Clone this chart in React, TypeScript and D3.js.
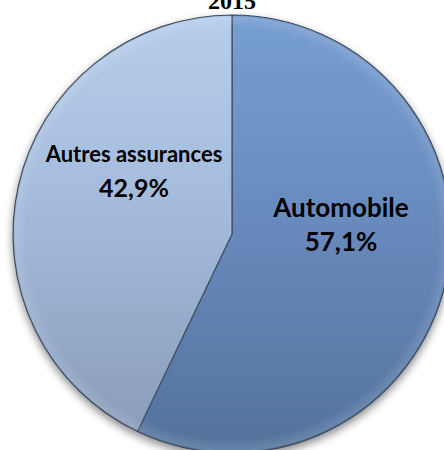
import React from "react";
import * as d3 from "d3";

const categories = ["Automobile", "Autres assurances"];
const values = [57.1, 42.9];
const valueLabels = ["57,1%", "42,9%"];
const title = "2015";

const W = 444;
const H = 450;
const cx = 232;
const cy = 234;
const R = 219;

const gradients = [
  { id: "gAuto", top: "#779ed2", mid: "#6789bb", bottom: "#53739c" },
  { id: "gAutres", top: "#b6cdec", mid: "#a1b8d9", bottom: "#8799b6" },
];

const labelStyle = [
  { nameSize: 26, valueSize: 26, nameDy: 217, valueDy: 251, x: 341 },
  { nameSize: 22, valueSize: 25, nameDy: 162, valueDy: 197, x: 134 },
];

export default function App() {
  const pie = d3
    .pie<number>()
    .sort(null)
    .startAngle(0)
    .endAngle(2 * Math.PI)
    .value((d) => d);
  const arcs = pie(values);
  const arc = d3.arc<d3.PieArcDatum<number>>().innerRadius(0).outerRadius(R);

  return (
    <svg
      width={W}
      height={H}
      style={{ position: "absolute", left: 0, top: 0, background: "#fff" }}
    >
      <defs>
        {gradients.map((g) => (
          <linearGradient
            key={g.id}
            id={g.id}
            gradientUnits="userSpaceOnUse"
            x1={0}
            y1={-R}
            x2={0}
            y2={R}
          >
            <stop offset="0%" stopColor={g.top} />
            <stop offset="50%" stopColor={g.mid} />
            <stop offset="100%" stopColor={g.bottom} />
          </linearGradient>
        ))}
        <filter id="shadow" x="-20%" y="-20%" width="140%" height="140%">
          <feGaussianBlur in="SourceAlpha" stdDeviation="4" />
          <feOffset dx="0" dy="4" result="blur" />
          <feFlood floodColor="#000" floodOpacity="0.45" />
          <feComposite in2="blur" operator="in" result="sh" />
          <feMerge>
            <feMergeNode in="sh" />
            <feMergeNode in="SourceGraphic" />
          </feMerge>
        </filter>
        <radialGradient id="bevel" cx="50%" cy="50%" r="50%">
          <stop offset="94%" stopColor="#fff" stopOpacity="0" />
          <stop offset="99%" stopColor="#fff" stopOpacity="0.12" />
          <stop offset="100%" stopColor="#000" stopOpacity="0.1" />
        </radialGradient>
      </defs>
      <text
        x={cx}
        y={9}
        textAnchor="middle"
        fontFamily="Liberation Serif, serif"
        fontWeight="bold"
        fontSize={24}
        fill="#000"
      >
        {title}
      </text>
      <g transform={`translate(${cx},${cy})`} filter="url(#shadow)">
        {arcs.map((a, i) => (
          <path
            key={categories[i]}
            d={arc(a) || ""}
            fill={`url(#${gradients[i].id})`}
            stroke="#3f4d62"
            strokeWidth={1.2}
            strokeLinejoin="round"
          />
        ))}
      </g>
      <circle cx={cx} cy={cy} r={R} fill="url(#bevel)" />
      {arcs.map((a, i) => (
        <g key={`lbl-${categories[i]}`} fontFamily="Lato, sans-serif" fontWeight="bold" fill="#000" textAnchor="middle">
          <text x={labelStyle[i].x} y={labelStyle[i].nameDy} fontSize={labelStyle[i].nameSize}>
            {categories[i]}
          </text>
          <text x={labelStyle[i].x} y={labelStyle[i].valueDy} fontSize={labelStyle[i].valueSize}>
            {valueLabels[i]}
          </text>
        </g>
      ))}
    </svg>
  );
}
